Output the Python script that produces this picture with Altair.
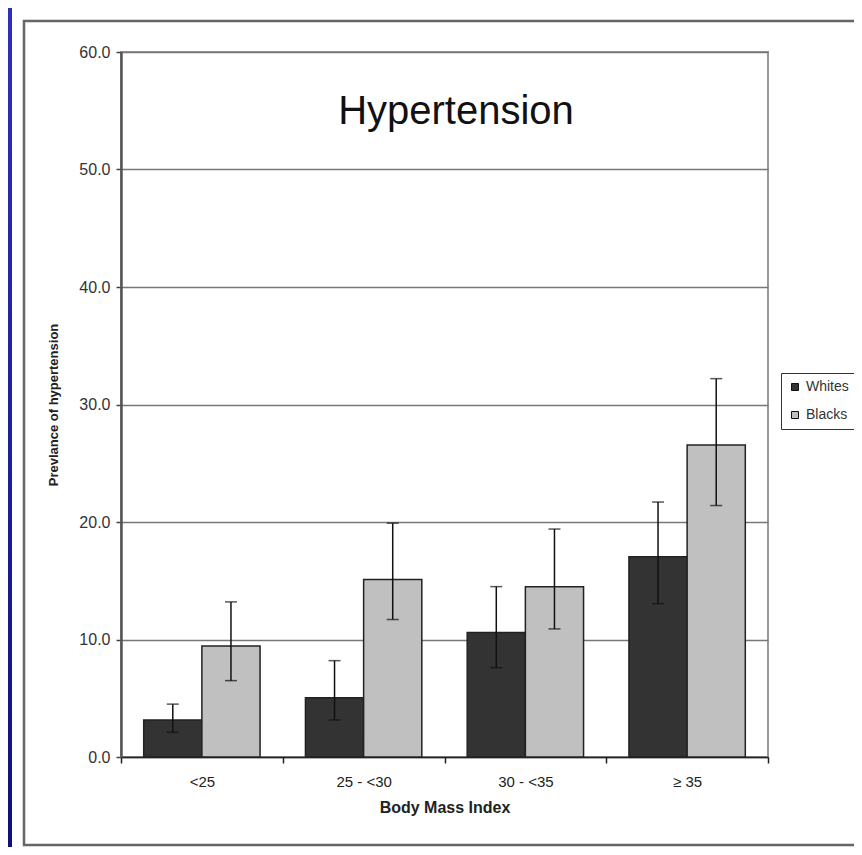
import altair as alt
import pandas as pd

categories = ["<25", "25 - <30", "30 - <35", "≥ 35"]
groups = ["Whites", "Blacks"]
whites = [3.15, 5.05, 10.6, 17.05]
whites_lo = [2.1, 3.15, 7.6, 13.05]
whites_hi = [4.5, 8.2, 14.5, 21.7]
blacks = [9.45, 15.1, 14.5, 26.55]
blacks_lo = [6.5, 11.7, 10.9, 21.4]
blacks_hi = [13.2, 19.9, 19.4, 32.2]
y_ticks = [0, 10, 20, 30, 40, 50, 60]

rows = []
for i, c in enumerate(categories):
    rows.append({"bmi": c, "group": "Whites", "value": whites[i], "lo": whites_lo[i], "hi": whites_hi[i]})
    rows.append({"bmi": c, "group": "Blacks", "value": blacks[i], "lo": blacks_lo[i], "hi": blacks_hi[i]})
df = pd.DataFrame(rows)

FONT = "Liberation Sans"

x_enc = alt.X("bmi:N", sort=categories,
              scale=alt.Scale(paddingInner=0, paddingOuter=0),
              axis=alt.Axis(title="Body Mass Index", labelAngle=0, tickBand="extent",
                            tickSize=6, labelPadding=11, titlePadding=10,
                            labelFontSize=15, titleFontSize=16, titleFontWeight="bold",
                            labelColor="#222", titleColor="#222", labelFont=FONT, titleFont=FONT,
                            domainColor="#222", domainWidth=1.5, tickColor="#222", tickWidth=1.5,
                            grid=False))
xo = alt.XOffset("group:N", sort=groups, scale=alt.Scale(paddingInner=0, paddingOuter=0.39))

y_axis = alt.Axis(title="Prevlance of hypertension", values=y_ticks, format=".1f",
                  tickSize=5, labelPadding=6, titlePadding=18,
                  labelFontSize=16, titleFontSize=13, titleFontWeight="bold",
                  labelColor="#333", titleColor="#222", labelFont=FONT, titleFont=FONT,
                  domainColor="#555", domainWidth=2.5, tickColor="#444", tickWidth=1.5,
                  grid=True, gridColor="#777", gridWidth=1.5)
y_scale = alt.Scale(domain=[0, 60], nice=False)

color = alt.Color("group:N", sort=groups,
                  scale=alt.Scale(domain=groups, range=["#333333", "#c0c0c0"]),
                  legend=alt.Legend(title=None, orient="none", legendX=660, legendY=321,
                                    symbolType="square", symbolSize=49,
                                    symbolStrokeColor="#111", symbolStrokeWidth=1,
                                    labelFontSize=14, labelFont=FONT, labelColor="#333",
                                    labelOffset=4, rowPadding=14, padding=7,
                                    strokeColor="#333", fillColor="white"))

base = alt.Chart(df)

bars = base.mark_bar(stroke="#222", strokeWidth=1.5).encode(
    x=x_enc, xOffset=xo,
    y=alt.Y("value:Q", scale=y_scale, axis=y_axis),
    color=color,
)

err = base.mark_rule(color="#111", strokeWidth=1.5).encode(
    x=alt.X("bmi:N", sort=categories), xOffset=xo,
    y="lo:Q", y2="hi:Q",
)
cap_lo = base.mark_tick(color="#111", size=12, thickness=1.5, orient="horizontal").encode(
    x=alt.X("bmi:N", sort=categories), xOffset=xo, y="lo:Q",
)
cap_hi = base.mark_tick(color="#111", size=12, thickness=1.5, orient="horizontal").encode(
    x=alt.X("bmi:N", sort=categories), xOffset=xo, y="hi:Q",
)

one = alt.Data(values=[{"k": 1}])

title = alt.Chart(one).mark_text(font=FONT, fontSize=40, color="#111", align="center",
                                 baseline="middle").encode(
    x=alt.value(335), y=alt.value(60), text=alt.value("Hypertension"))

blue_strip = alt.Chart(one).mark_rect(
    color=alt.Gradient(gradient="linear",
                       stops=[alt.GradientStop(color="#2f2fba", offset=0),
                              alt.GradientStop(color="#10107a", offset=1)],
                       x1=0, x2=0, y1=0, y2=1)
).encode(x=alt.value(-113), x2=alt.value(-109), y=alt.value(-44), y2=alt.value(800))

frame = alt.Chart(one).mark_rect(filled=False, stroke="#666", strokeWidth=2.5).encode(
    x=alt.value(-97), x2=alt.value(760), y=alt.value(-31), y2=alt.value(793))

chart = alt.layer(blue_strip, frame, bars, err, cap_lo, cap_hi, title).properties(
    width=647, height=705,
    autosize=alt.AutoSizeParams(type="none"),
    padding={"left": 113, "top": 44, "right": 86, "bottom": 90},
    background="white",
).configure_view(stroke="#999", strokeWidth=2)

chart.save("out.html", embed_options={"renderer": "svg", "actions": False})
